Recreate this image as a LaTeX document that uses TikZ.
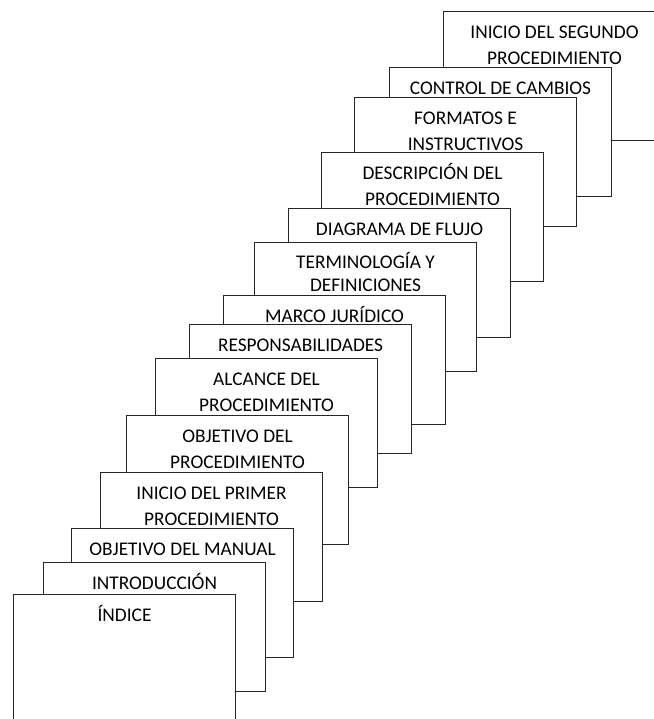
\documentclass[tikz,border=0pt]{standalone}
\usepackage{fontspec}
\setmainfont{Carlito}

% title lines of a page, first line always the same height
\newcommand{\pagetext}[1]{\begin{tabular}[t]{@{}c@{}}#1\end{tabular}}

\begin{document}
\begin{tikzpicture}[
    x=0.75pt, y=-0.75pt,
    page/.style={
        draw=black!85,
        fill=white,
        rectangle,
        line width=0.8pt,
        anchor=north west,
        minimum width=166.5pt,
        minimum height=96.75pt,
        inner sep=0pt
    },
    pagetitle/.style={
        anchor=north,
        inner sep=0pt,
        yshift=-6.6pt,
        font=\fontsize{14.5}{19.5}\selectfont
    }
]
\useasboundingbox (0,0) rectangle (654,719);
\clip (0,0) rectangle (654,719);

% Back of the stack
\node[page, label={[pagetitle]north:\pagetext{INICIO DEL SEGUNDO\\PROCEDIMIENTO}}] (segundo) at (443,11) {};
\node[page, label={[pagetitle]north:\pagetext{CONTROL DE CAMBIOS}}] (control) at (389,67) {};
\node[page, label={[pagetitle]north:\pagetext{FORMATOS E\\INSTRUCTIVOS}}] (formatos) at (354,97) {};
\node[page, label={[pagetitle]north:\pagetext{DESCRIPCIÓN DEL\\PROCEDIMIENTO}}] (descripcion) at (321,152) {};
\node[page, label={[pagetitle]north:\pagetext{DIAGRAMA DE FLUJO}}] (diagrama) at (288,208) {};

% Middle of the stack
\node[page, label={[pagetitle, yshift=0.6pt]north:\pagetext{TERMINOLOGÍA Y\\[-2.4pt]DEFINICIONES}}] (terminologia) at (254,242) {};
\node[page, label={[pagetitle]north:\pagetext{MARCO JURÍDICO}}] (marco) at (223,295) {};
\node[page, label={[pagetitle]north:\pagetext{RESPONSABILIDADES}}] (responsab) at (189,324) {};
\node[page, label={[pagetitle]north:\pagetext{ALCANCE DEL\\PROCEDIMIENTO}}] (alcance) at (155,358) {};
\node[page, label={[pagetitle]north:\pagetext{OBJETIVO DEL\\PROCEDIMIENTO}}] (objproc) at (126,415) {};

% Front of the stack
\node[page, label={[pagetitle]north:\pagetext{INICIO DEL PRIMER\\PROCEDIMIENTO}}] (primer) at (100,472) {};
\node[page, label={[pagetitle]north:\pagetext{OBJETIVO DEL MANUAL}}] (objmanual) at (71,528) {};
\node[page, label={[pagetitle]north:\pagetext{INTRODUCCIÓN}}] (intro) at (43,562) {};
\node[page, label={[pagetitle]north:\pagetext{ÍNDICE}}] (indice) at (13,594) {};

\end{tikzpicture}
\end{document}
